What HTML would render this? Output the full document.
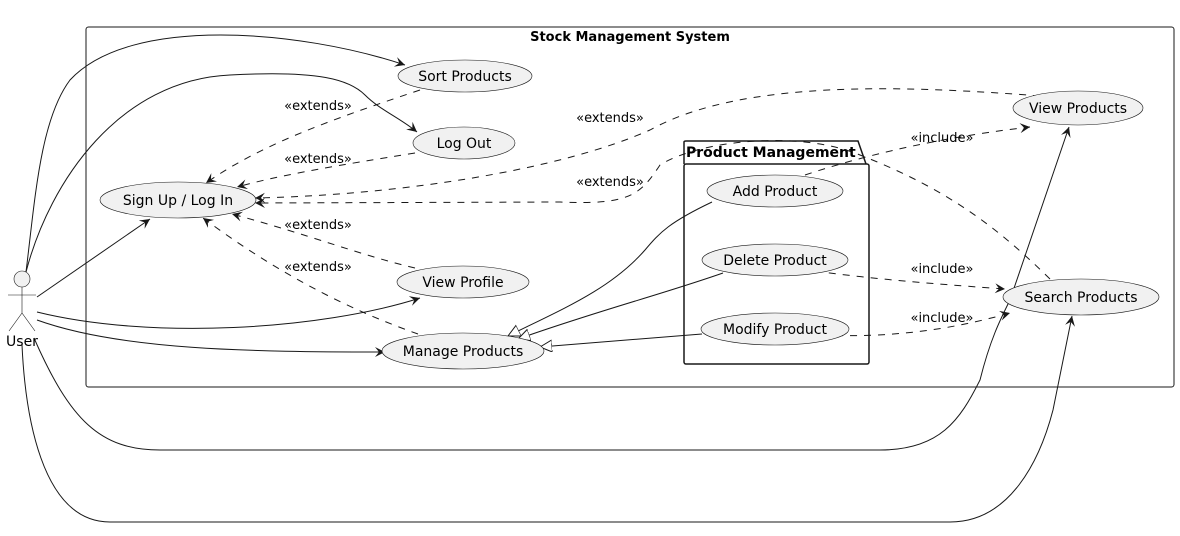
<!DOCTYPE html>
<html><head><meta charset="utf-8"><style>
html,body{margin:0;padding:0;background:#fff;}
svg{display:block;font-family:"DejaVu Sans","Liberation Sans",sans-serif;}
.e{fill:#f1f1f1;stroke:#181818;stroke-width:0.6}
.l{fill:none;stroke:#181818;stroke-width:1}
.d{fill:none;stroke:#181818;stroke-width:1;stroke-dasharray:7,7}
.t{font-size:14px;fill:#000;text-anchor:middle}
.s{font-size:13px;fill:#000;text-anchor:middle}
</style></head><body>
<svg width="1180" height="536" viewBox="0 0 1180 536">
<defs>
<marker id="a" markerWidth="12" markerHeight="12" refX="10" refY="5" orient="auto" markerUnits="userSpaceOnUse"><path d="M0,0 L10,5 L0,10 L4,5 Z" fill="#181818"/></marker>
<marker id="o" markerWidth="14" markerHeight="14" refX="12" refY="6" orient="auto" markerUnits="userSpaceOnUse"><path d="M0,0 L12,6 L0,12 Z" fill="#fff" stroke="#181818"/></marker>
</defs>
<rect x="86" y="27" width="1088" height="360" rx="2.5" fill="none" stroke="#181818" stroke-width="1"/>
<text x="630" y="41" style="font-size:13px;font-weight:bold" text-anchor="middle">Stock Management System</text>
<path d="M684,164 L684,142 Q684,141 686,141 L858,141 L866,164" fill="none" stroke="#181818" stroke-width="1.5"/>
<rect x="684" y="164" width="185" height="200" rx="2" fill="none" stroke="#181818" stroke-width="1.5"/>
<text x="686" y="157" style="font-size:14px;font-weight:bold">Product Management</text>
<path class="l" d="M26,272 C35,200 40,120 70,80 C130,15 300,30 405,65" marker-end="url(#a)"/>
<path class="l" d="M26,272 C50,180 120,80 230,75 C320,70 350,80 365,95 C380,110 400,118 417,132" marker-end="url(#a)"/>
<path class="l" d="M37,297 L150,219" marker-end="url(#a)"/>
<path class="l" d="M37,312 C150,340 320,330 420,298" marker-end="url(#a)"/>
<path class="l" d="M37,320 C120,350 250,352 385,352" marker-end="url(#a)"/>
<path class="l" d="M34,338 C70,420 100,450 160,450 L880,450 C940,450 960,420 980,380 C990,340 1000,320 1010,300 L1069,127" marker-end="url(#a)"/>
<path class="l" d="M22,345 C25,410 40,522 110,522 L950,522 C1010,522 1040,460 1053,410 L1072,316" marker-end="url(#a)"/>
<path class="d" d="M420,90 C330,120 260,145 206,183" marker-end="url(#a)"/>
<path class="d" d="M415,153 C340,165 280,175 237,187" marker-end="url(#a)"/>
<path class="d" d="M1040,96 C900,85 740,80 650,130 C560,170 400,195 255,198" marker-end="url(#a)"/>
<path class="d" d="M1050,279 C1000,230 950,190 860,155 C800,130 700,140 660,165 C640,195 630,205 560,202 L255,203" marker-end="url(#a)"/>
<path class="d" d="M415,268 C360,255 310,235 232,214" marker-end="url(#a)"/>
<path class="d" d="M418,334 C350,310 280,275 203,218" marker-end="url(#a)"/>
<path class="d" d="M805,175 C880,150 960,135 1030,127" marker-end="url(#a)"/>
<path class="d" d="M815,271 C880,280 950,285 1005,289" marker-end="url(#a)"/>
<path class="d" d="M822,335 C890,338 950,330 1010,313" marker-end="url(#a)"/>
<path class="l" d="M712,202 C670,222 660,232 645,250 C610,290 560,310 508,336" marker-end="url(#o)"/>
<path class="l" d="M723,273 C660,295 600,310 518,339" marker-end="url(#o)"/>
<path class="l" d="M702,334 L540,347" marker-end="url(#o)"/>
<text class="s" x="318" y="110">«extends»</text>
<text class="s" x="318" y="163">«extends»</text>
<text class="s" x="318" y="229">«extends»</text>
<text class="s" x="318" y="271">«extends»</text>
<text class="s" x="610" y="122">«extends»</text>
<text class="s" x="610" y="186">«extends»</text>
<text class="s" x="942" y="142">«include»</text>
<text class="s" x="942" y="273">«include»</text>
<text class="s" x="942" y="322">«include»</text>
<ellipse class="e" cx="465" cy="76" rx="67" ry="16"/><text class="t" x="465" y="81">Sort Products</text>
<ellipse class="e" cx="464" cy="143" rx="51" ry="16"/><text class="t" x="464" y="148">Log Out</text>
<ellipse class="e" cx="178" cy="200" rx="78" ry="18"/><text class="t" x="178" y="205">Sign Up / Log In</text>
<ellipse class="e" cx="463" cy="282" rx="66" ry="16"/><text class="t" x="463" y="287">View Profile</text>
<ellipse class="e" cx="463" cy="351" rx="81" ry="18"/><text class="t" x="463" y="356">Manage Products</text>
<ellipse class="e" cx="1078" cy="108" rx="65" ry="17"/><text class="t" x="1078" y="113">View Products</text>
<ellipse class="e" cx="1081" cy="297" rx="78" ry="18"/><text class="t" x="1081" y="302">Search Products</text>
<ellipse class="e" cx="775" cy="191" rx="68" ry="16"/><text class="t" x="775" y="196">Add Product</text>
<ellipse class="e" cx="775" cy="260" rx="73" ry="16"/><text class="t" x="775" y="265">Delete Product</text>
<ellipse class="e" cx="775" cy="329" rx="74" ry="16"/><text class="t" x="775" y="334">Modify Product</text>
<circle cx="22" cy="279" r="8" fill="#f1f1f1" stroke="#181818" stroke-width="0.6"/>
<path d="M22,287 L22,313 M8,295 L36,295 M22,313 L9,331 M22,313 L35,331" stroke="#181818" stroke-width="0.6" fill="none"/>
<text class="t" x="22" y="346">User</text>
</svg>
</body></html>
